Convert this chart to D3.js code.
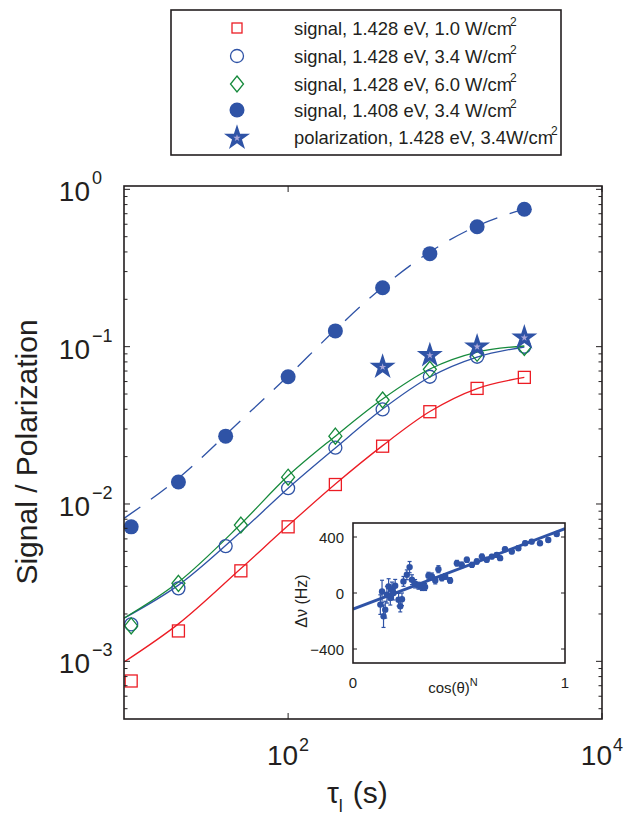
<!DOCTYPE html>
<html>
<head>
<meta charset="utf-8">
<script src="https://cdn.jsdelivr.net/npm/d3@7"></script>
<style>
  body { margin: 0; background: #fff; }
  text { font-family: "Liberation Sans", Arial, sans-serif; fill: #231f20; }
</style>
</head>
<body>
<svg width="641" height="815"></svg>
<script>
// tau values (s)
var tauA = [10, 20, 40, 100, 200, 400, 800, 1600, 3200];     // open circles, filled dots
var tauB = [10, 20, 50, 100, 200, 400, 800, 1600, 3200];     // squares, diamonds
var tauStar = [400, 800, 1600, 3200];
var tauFit = [9, 20, 50, 100, 200, 400, 800, 1600, 3200];

// measured signals
var sig10 = [7.5e-4, 1.56e-3, 3.76e-3, 7.16e-3, 1.33e-2, 2.33e-2, 3.86e-2, 5.43e-2, 6.38e-2];
var sig34 = [1.72e-3, 2.91e-3, 5.40e-3, 1.26e-2, 2.28e-2, 3.99e-2, 6.44e-2, 8.63e-2, 0.0999];
var sig60 = [1.68e-3, 3.13e-3, 7.35e-3, 1.48e-2, 2.70e-2, 4.58e-2, 7.18e-2, 0.0907, 0.099];
var sig1408 = [7.16e-3, 1.38e-2, 2.70e-2, 6.44e-2, 0.126, 0.237, 0.390, 0.578, 0.747];
var polar = [0.0753, 0.0894, 0.1014, 0.1157];

// fit curves
var fit10 = [9.9e-4, 1.73e-3, 3.89e-3, 7.29e-3, 1.34e-2, 2.35e-2, 3.87e-2, 5.42e-2, 6.37e-2];
var fit34 = [1.88e-3, 3.05e-3, 6.66e-3, 1.26e-2, 2.27e-2, 4.01e-2, 6.41e-2, 8.59e-2, 0.0995];
var fit60 = [1.88e-3, 3.19e-3, 7.46e-3, 1.51e-2, 2.70e-2, 4.65e-2, 7.21e-2, 0.0924, 0.101];
var fit1408 = [8.1e-3, 1.46e-2, 3.4e-2, 6.51e-2, 0.128, 0.239, 0.400, 0.585, 0.750];

var yTickVals = [1, 0.1, 0.01, 0.001];
var yTickExp = ["0", "\u22121", "\u22122", "\u22123"];
var xTickVals = [100, 10000];
var xTickExp = ["2", "4"];

// inset: frequency shift vs cos(theta)^N
var insetX = [0.129, 0.137, 0.144, 0.152, 0.160, 0.168, 0.176, 0.184, 0.191, 0.199, 0.215, 0.223, 0.231, 0.238,
  0.254, 0.267, 0.278, 0.293, 0.309, 0.325, 0.340, 0.356, 0.372, 0.388, 0.403, 0.419, 0.435, 0.458, 0.490, 0.513,
  0.537, 0.561, 0.584, 0.608, 0.631, 0.655, 0.678, 0.694, 0.717, 0.749, 0.780, 0.812, 0.843, 0.882, 0.921, 0.961];
var insetY = [-83, 11, -166, -119, -12, 47, -36, 23, 0, 52, -48, -95, -45, 83,
  130, 185, 95, 66, 52, 43, 43, 123, 118, 90, 170, 107, 118, 90, 213, 201,
  237, 201, 225, 260, 237, 260, 272, 249, 312, 296, 320, 355, 367, 355, 379, 421];
var insetErr = [70, 80, 80, 60, 60, 55, 50, 55, 50, 45, 45, 40, 45, 35,
  35, 40, 35, 30, 25, 25, 25, 25, 25, 25, 25, 20, 20, 20, 20, 20,
  18, 18, 18, 18, 15, 15, 15, 15, 15, 15, 15, 15, 15, 15, 15, 15];
var insetFitX = [0, 1];
var insetFitY = [-115, 460];
var insetTicksY = [-400, 0, 400];
var insetTicksX = [0, 1];

var red = "#ec1c24", blue = "#2f53a6", green = "#168a3c", dark = "#231f20";

var svg = d3.select("svg");

var x = d3.scaleLog().domain([9, 10000]).range([124, 602]);
var y = d3.scaleLog().domain([4.3e-4, 1.05]).range([719, 186]);

svg.append("clipPath").attr("id", "plotclip")
  .append("rect").attr("x", 124).attr("y", 186).attr("width", 478).attr("height", 533);

var plot = svg.append("g").attr("clip-path", "url(#plotclip)");

var line = d3.line().curve(d3.curveMonotoneX);

function fitPath(vals) {
  return line(tauFit.map((t, i) => [x(t), y(vals[i])]));
}

plot.append("path").attr("d", fitPath(fit10)).attr("fill", "none").attr("stroke", red).attr("stroke-width", 1.3);
plot.append("path").attr("d", fitPath(fit34)).attr("fill", "none").attr("stroke", blue).attr("stroke-width", 1.3);
plot.append("path").attr("d", fitPath(fit60)).attr("fill", "none").attr("stroke", green).attr("stroke-width", 1.3);
plot.append("path").attr("d", fitPath(fit1408)).attr("fill", "none").attr("stroke", blue)
  .attr("stroke-width", 1.3).attr("stroke-dasharray", "20,13");

// markers
function square(g, cx, cy, s) {
  g.append("rect").attr("x", cx - s / 2).attr("y", cy - s / 2).attr("width", s).attr("height", s)
    .attr("fill", "none").attr("stroke", red).attr("stroke-width", 1.3);
}
function circle(g, cx, cy) {
  g.append("circle").attr("cx", cx).attr("cy", cy).attr("r", 6.5)
    .attr("fill", "none").attr("stroke", blue).attr("stroke-width", 1.3);
}
function diamond(g, cx, cy) {
  g.append("path").attr("d", `M${cx},${cy - 8}L${cx + 6.5},${cy}L${cx},${cy + 8}L${cx - 6.5},${cy}Z`)
    .attr("fill", "none").attr("stroke", green).attr("stroke-width", 1.3);
}
function dot(g, cx, cy) {
  g.append("circle").attr("cx", cx).attr("cy", cy).attr("r", 7.5).attr("fill", blue);
}
function star(g, cx, cy) {
  g.append("path").attr("d", d3.symbol(d3.symbolStar, 210)())
    .attr("transform", `translate(${cx},${cy + 1}) `).attr("fill", blue);
  g.append("path").attr("d", d3.symbol(d3.symbolStar, 16)())
    .attr("transform", `translate(${cx},${cy + 1})`).attr("fill", "#aaa6d8");
}

var mk = svg.append("g");
tauB.forEach((t, i) => square(mk, x(t), y(sig10[i]), 12));
tauA.forEach((t, i) => circle(mk, x(t), y(sig34[i])));
tauB.forEach((t, i) => diamond(mk, x(t), y(sig60[i])));
tauA.forEach((t, i) => dot(mk, x(t), y(sig1408[i])));
tauStar.forEach((t, i) => star(mk, x(t), y(polar[i])));

// axes box and ticks
svg.append("rect").attr("x", 124).attr("y", 186).attr("width", 478).attr("height", 533)
  .attr("fill", "none").attr("stroke", dark).attr("stroke-width", 1.6);

var minor = [];
[-4, -3, -2, -1].forEach(e => { for (var k = 2; k <= 9; k++) minor.push(k * Math.pow(10, e)); });
minor = minor.filter(v => v > 4.3e-4 && v < 1.05);
var ticks = svg.append("g").attr("stroke", dark).attr("stroke-width", 1);
minor.forEach(v => {
  ticks.append("line").attr("x1", 124).attr("x2", 127.5).attr("y1", y(v)).attr("y2", y(v));
  ticks.append("line").attr("x1", 602).attr("x2", 598.5).attr("y1", y(v)).attr("y2", y(v));
});
yTickVals.forEach(v => {
  ticks.append("line").attr("x1", 124).attr("x2", 130).attr("y1", y(v)).attr("y2", y(v));
  ticks.append("line").attr("x1", 602).attr("x2", 596).attr("y1", y(v)).attr("y2", y(v));
});
xTickVals.forEach(v => {
  ticks.append("line").attr("x1", x(v)).attr("x2", x(v)).attr("y1", 719).attr("y2", 713);
  ticks.append("line").attr("x1", x(v)).attr("x2", x(v)).attr("y1", 186).attr("y2", 192);
});

yTickVals.forEach((v, i) => {
  svg.append("text").attr("x", 90).attr("y", y(v) + 12).attr("text-anchor", "end")
    .attr("font-size", 28).text("10");
  svg.append("text").attr("x", 92).attr("y", y(v) - 5).attr("font-size", 18).text(yTickExp[i]);
});
xTickVals.forEach((v, i) => {
  svg.append("text").attr("x", x(v) + 10).attr("y", 765).attr("text-anchor", "end")
    .attr("font-size", 28).text("10");
  svg.append("text").attr("x", x(v) + 11).attr("y", 751).attr("font-size", 18).text(xTickExp[i]);
});

svg.append("text").attr("transform", "translate(37,452) rotate(-90)").attr("text-anchor", "middle")
  .attr("font-size", 30).text("Signal / Polarization");

var xl = svg.append("text").attr("x", 327).attr("y", 803).attr("font-size", 30);
xl.append("tspan").text("\u03c4");
xl.append("tspan").attr("font-size", 18).attr("dy", 9).text("l");
xl.append("tspan").attr("dy", -9).attr("dx", 10).text("(s)");

// inset
var ix = d3.scaleLinear().domain([0, 1]).range([353, 565]);
var iy = d3.scaleLinear().domain([-500, 500]).range([663, 523]);
var ins = svg.append("g");
ins.append("rect").attr("x", 353).attr("y", 523).attr("width", 212).attr("height", 140).attr("fill", "#fff");
ins.append("clipPath").attr("id", "insclip")
  .append("rect").attr("x", 353).attr("y", 523).attr("width", 212).attr("height", 140);
var inner = ins.append("g").attr("clip-path", "url(#insclip)");
inner.append("line").attr("x1", ix(insetFitX[0])).attr("y1", iy(insetFitY[0]))
  .attr("x2", ix(insetFitX[1])).attr("y2", iy(insetFitY[1]))
  .attr("stroke", blue).attr("stroke-width", 3);
insetX.forEach((v, i) => {
  var cx = ix(v);
  inner.append("line").attr("x1", cx).attr("x2", cx)
    .attr("y1", iy(insetY[i] - insetErr[i])).attr("y2", iy(insetY[i] + insetErr[i]))
    .attr("stroke", blue).attr("stroke-width", 1.2);
  [insetY[i] - insetErr[i], insetY[i] + insetErr[i]].forEach(e => {
    inner.append("line").attr("x1", cx - 2).attr("x2", cx + 2).attr("y1", iy(e)).attr("y2", iy(e))
      .attr("stroke", blue).attr("stroke-width", 1.2);
  });
  inner.append("circle").attr("cx", cx).attr("cy", iy(insetY[i])).attr("r", 3.2).attr("fill", blue);
});
ins.append("rect").attr("x", 353).attr("y", 523).attr("width", 212).attr("height", 140)
  .attr("fill", "none").attr("stroke", dark).attr("stroke-width", 1.6);
insetTicksY.forEach(v => {
  ins.append("line").attr("x1", 353).attr("x2", 357).attr("y1", iy(v)).attr("y2", iy(v)).attr("stroke", dark);
  ins.append("line").attr("x1", 565).attr("x2", 561).attr("y1", iy(v)).attr("y2", iy(v)).attr("stroke", dark);
  ins.append("text").attr("x", 344).attr("y", iy(v) + 5.5).attr("text-anchor", "end").attr("font-size", 15)
    .text(v < 0 ? "\u2212" + Math.abs(v) : v);
});
insetTicksX.forEach(v => {
  ins.append("text").attr("x", ix(v)).attr("y", 688).attr("text-anchor", "middle").attr("font-size", 15).text(v);
});
var il = ins.append("text").attr("x", 453).attr("y", 693).attr("text-anchor", "middle").attr("font-size", 15);
il.append("tspan").text("cos(\u03b8)");
il.append("tspan").attr("font-size", 11).attr("dy", -7).text("N");
ins.append("text").attr("transform", "translate(307,601) rotate(-90)").attr("text-anchor", "middle")
  .attr("font-size", 16).text("\u0394\u03bd (Hz)");

// legend
var legendLabels = ["signal, 1.428 eV, 1.0 W/cm", "signal, 1.428 eV, 3.4 W/cm", "signal, 1.428 eV, 6.0 W/cm",
  "signal, 1.408 eV, 3.4 W/cm", "polarization, 1.428 eV, 3.4W/cm"];
var legendRows = [28, 56, 84, 110, 137];
var lg = svg.append("g");
lg.append("rect").attr("x", 171).attr("y", 10).attr("width", 390).attr("height", 145)
  .attr("fill", "#fff").attr("stroke", dark).attr("stroke-width", 1.6);
square(lg, 237, legendRows[0], 10);
circle(lg, 237, legendRows[1]);
diamond(lg, 237, legendRows[2]);
dot(lg, 237, legendRows[3]);
star(lg, 237, legendRows[4]);
legendLabels.forEach((s, i) => {
  var t = lg.append("text").attr("x", 294).attr("y", legendRows[i] + 7).attr("font-size", 18.4);
  t.append("tspan").text(s);
  t.append("tspan").attr("font-size", 12).attr("dx", -2).attr("dy", -9).text("2");
});
</script>
</body>
</html>
